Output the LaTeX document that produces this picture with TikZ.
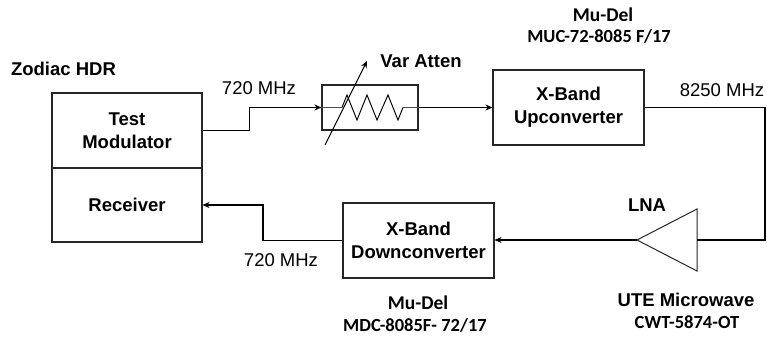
\documentclass[tikz,border=0pt]{standalone}
\usepackage{fontspec}
\setmainfont{Liberation Sans}
\newfontfamily\calib{Carlito}
\usetikzlibrary{arrows.meta}
\begin{document}
\begin{tikzpicture}[x=1pt,y=-1pt,
  blk/.style={draw=black!85, line width=1.1pt, inner sep=0pt, align=center,
    font=\fontsize{18.5}{23}\selectfont\bfseries},
  lab/.style={font=\fontsize{18.5}{22}\selectfont, text height=13.2pt, text depth=0pt, inner sep=0pt},
  blab/.style={font=\fontsize{18.5}{22}\selectfont\bfseries, text height=13.2pt, text depth=0pt, inner sep=0pt},
  clab/.style={font=\fontsize{18.5}{22}\selectfont\calib\bfseries, text height=11.9pt, text depth=0pt, inner sep=0pt},
  wire/.style={draw=black, line width=1.1pt},
  arr/.style={-{Stealth[length=7pt,width=6pt]}}
]
\useasboundingbox (0,0) rectangle (767,339);

% blocks
\node[blk, minimum width=150pt, minimum height=75pt] (tm) at (127,130.5) {Test\\Modulator};
\node[blk, minimum width=150pt, minimum height=74pt] (rx) at (127,205) {Receiver};
\node[draw=black!85, line width=1.1pt, minimum width=96pt, minimum height=45pt, inner sep=0pt] (att) at (370,107.5) {};
\node[blk, minimum width=151pt, minimum height=75pt] (uc) at (568.5,107.5) {X-Band\\Upconverter};
\node[blk, minimum width=151pt, minimum height=75pt] (dc) at (418.5,240.5) {X-Band\\Downconverter};

% LNA triangle
\coordinate (lnaback) at (697,240);
\coordinate (lnatop) at (697,209);
\coordinate (lnabot) at (697,271);
\coordinate (lnatip) at (637,240);
\draw[black!85, line width=1pt] (lnatop) -- (lnatip) -- (lnabot) -- cycle;

% attenuator internals
\coordinate (zs) at (342,107.5);
\coordinate (ze) at (403,107.5);
\draw[black!70, line width=1pt] (att.west) -- (zs);
\draw[black!70, line width=1pt] (ze) -- (att.east);
\draw[black, line width=1pt, line join=miter] (zs) -- (347,95) -- (357,120) -- (367,95) -- (377,120) -- (388,95) -- (398,120) -- (ze);
\coordinate (vs) at (325,145);
\coordinate (ve) at (367,61);
\draw[black, line width=1pt, arr] (vs) -- (ve);

% connectors
\draw[wire, arr] (tm.east) -- ++(47,0) |- (att.west);
\draw[wire, line width=1.8pt, arr] (att.east) -- (uc.west);
\coordinate (rc) at (765,108);
\draw[wire] (uc.east) -- (uc.east -| rc) |- (lnaback);
\draw[wire, arr] (lnatip) -- (lnatip -| dc.east);
\coordinate (dk) at (263,240.5);
\draw[wire, line width=1.5pt, arr] (dc.west) -- (dk) |- (rx.east);

% labels
\node[blab] (zod) at (63.5,68.5) {Zodiac HDR};
\node[lab] (f1) at (259,88) {720 MHz};
\node[blab] (va) at (421,61) {Var Atten};
\node[clab, font=\fontsize{19.5}{22}\selectfont\calib\bfseries, text height=12.6pt] (md1) at (603,15) {Mu-Del};
\node[clab] (muc) at (599,37) {MUC-72-8085 F/17};
\node[lab] (f2) at (722,90) {8250 MHz};
\node[blab] (lna) at (647,205) {LNA};
\node[blab] (ute) at (686,300) {UTE Microwave};
\node[clab] (cwt) at (687,323) {CWT-5874-OT};
\node[lab] (f3) at (281,260) {720 MHz};
\node[clab, font=\fontsize{19.5}{22}\selectfont\calib\bfseries, text height=12.6pt] (md2) at (418,303) {Mu-Del};
\node[clab] (mdc) at (415,326) {MDC-8085F- 72/17};
\end{tikzpicture}
\end{document}
